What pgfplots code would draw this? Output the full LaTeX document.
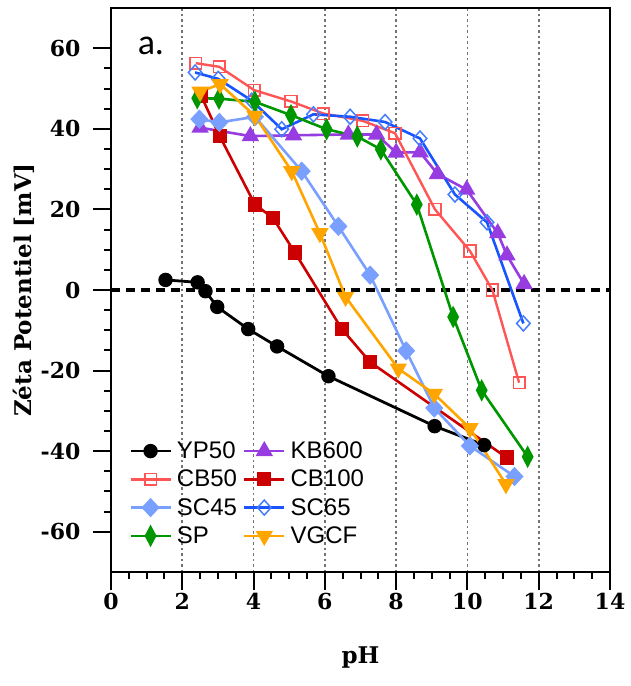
\documentclass[border=0pt]{standalone}
\usepackage{fontspec}
\setmainfont{DejaVu Serif}
\newfontfamily\lsans{Liberation Sans}
\newfontfamily\calib{Carlito}
\usepackage{pgfplots}
\pgfplotsset{compat=1.18}
\definecolor{cpurple}{RGB}{150,60,225}
\definecolor{clred}{RGB}{255,85,85}
\definecolor{cdred}{RGB}{204,0,0}
\definecolor{clblue}{RGB}{122,160,255}
\definecolor{cblue}{RGB}{25,85,255}
\definecolor{cblueM}{RGB}{70,125,255}
\definecolor{cgreen}{RGB}{0,150,0}
\definecolor{corange}{RGB}{255,165,0}
\begin{document}
\begin{tikzpicture}
\begin{axis}[
  scale only axis,
  width=499pt, height=564pt,
  xmin=0, xmax=14, ymin=-70, ymax=70,
  xtick={0,2,...,14}, ytick={-60,-40,...,60},
  minor x tick num=3, minor y tick num=3,
  xtick pos=bottom, ytick pos=left,
  tick align=outside,
  major tick length=18pt, minor tick length=7pt,
  every tick/.style={black, line width=2pt},
  axis line style={line width=2.2pt},
  /pgf/number format/assume math mode=true,
  tick label style={font=\fontsize{22}{24}\selectfont\bfseries},
  yticklabel style={xshift=-9pt},
  xmajorgrids=true,
  major grid style={black!55, line width=1.6pt, dash pattern=on 2.5pt off 3pt},
  xlabel={pH},
  ylabel={Zéta Potentiel [mV]},
  label style={font=\fontsize{23}{26}\selectfont\bfseries},
  xlabel style={at={(axis description cs:0.5,0)}, anchor=center, yshift=-86pt},
  ylabel style={at={(axis description cs:0,0.5)}, anchor=center, yshift=87pt},
  legend columns=2,
  legend style={draw=none, fill=none, at={(0.03,0.238)}, anchor=north west,
    font=\fontsize{24}{26}\selectfont\lsans, row sep=6pt,
    /tikz/every odd column/.append style={column sep=3pt},
    /tikz/every even column/.append style={column sep=4pt}},
  legend cell align=left,
  legend image code/.code={\draw[mark repeat=2,mark phase=2,#1] plot coordinates {(0pt,0pt) (20pt,0pt) (40pt,0pt)};},
]
\addplot[black, line width=4pt, dash pattern=on 9pt off 6pt, forget plot] coordinates {(0,0) (14,0)};
\addplot[black, line width=2.8pt, mark=*, mark size=5.8pt] coordinates {
(1.53,2.5) (2.43,1.9) (2.65,-0.3) (2.98,-4.2) (3.85,-9.7) (4.66,-14) (6.1,-21.4) (9.08,-33.8) (10.47,-38.5)};
\addlegendentry{YP50}
\addplot[cpurple, line width=2.6pt, mark=triangle*, mark size=7.5pt] coordinates {
(2.5,40.3) (3.91,38.2) (5.12,38.4) (6.66,38.6) (7.45,38.6) (8.0,34.1) (8.67,34.2) (9.16,28.8) (9.98,24.9) (10.85,14.1) (11.11,8.6) (11.59,1.5)};
\addlegendentry{KB600}
\addplot[clred, line width=2.4pt, mark=square, mark size=5.8pt, mark options={line width=1.6pt}] coordinates {
(2.38,56.3) (3.04,55.4) (4.02,49.6) (5.05,46.8) (5.96,43.8) (7.06,42.0) (7.97,38.9) (9.09,20.0) (10.07,9.7) (10.7,0.0) (11.45,-23)};
\addlegendentry{CB50}
\addplot[cdred, line width=2.6pt, mark=square*, mark size=5.8pt] coordinates {
(2.53,48.2) (3.05,38.2) (4.04,21.2) (4.54,17.9) (5.16,9.3) (6.47,-9.6) (7.27,-17.9) (11.1,-41.6)};
\addlegendentry{CB100}
\addplot[clblue, line width=2.6pt, mark=diamond*, mark size=7.8pt, mark options={xscale=1.25}] coordinates {
(2.48,42.4) (3.04,41.6) (4.04,43.0) (5.35,29.5) (6.38,15.8) (7.27,3.7) (8.28,-15.1) (9.07,-29.3) (10.07,-38.7) (11.32,-46.3)};
\addlegendentry{SC45}
\addplot[cblue, line width=2.6pt, mark=diamond, mark size=7.5pt, mark options={draw=cblueM, line width=1.5pt, xscale=1.2}] coordinates {
(2.36,54.0) (3.01,52.4) (3.95,47.0) (4.79,39.9) (5.68,43.6) (6.71,43.0) (7.69,41.7) (8.67,37.6) (9.65,23.7) (10.55,16.8) (11.57,-8.3)};
\addlegendentry{SC65}
\addplot[cgreen, line width=2.6pt, mark=diamond*, mark size=8.5pt, mark options={xscale=0.7}] coordinates {
(2.42,47.6) (3.03,47.5) (4.04,46.7) (5.05,43.4) (6.05,39.9) (6.91,38.1) (7.57,34.9) (8.58,21.2) (9.6,-6.7) (10.4,-24.9) (11.69,-41.4)};
\addlegendentry{SP}
\addplot[corange, line width=2.6pt, mark=triangle*, mark size=7.5pt, mark options={rotate=180}] coordinates {
(2.5,49.2) (3.06,51.1) (4.04,43.2) (5.07,29.5) (5.86,14.1) (6.58,-1.7) (8.06,-19.5) (9.07,-25.8) (10.07,-34.3) (11.08,-48.2)};
\addlegendentry{VGCF}
\node[font=\fontsize{36}{38}\selectfont\calib] at (axis cs:1.12,60.5) {a.};
\end{axis}
\pgfresetboundingbox
\path[use as bounding box] ([shift={(-111pt,-114pt)}]current axis.south west) rectangle ([shift={(21pt,8pt)}]current axis.north east);
\end{tikzpicture}
\end{document}
